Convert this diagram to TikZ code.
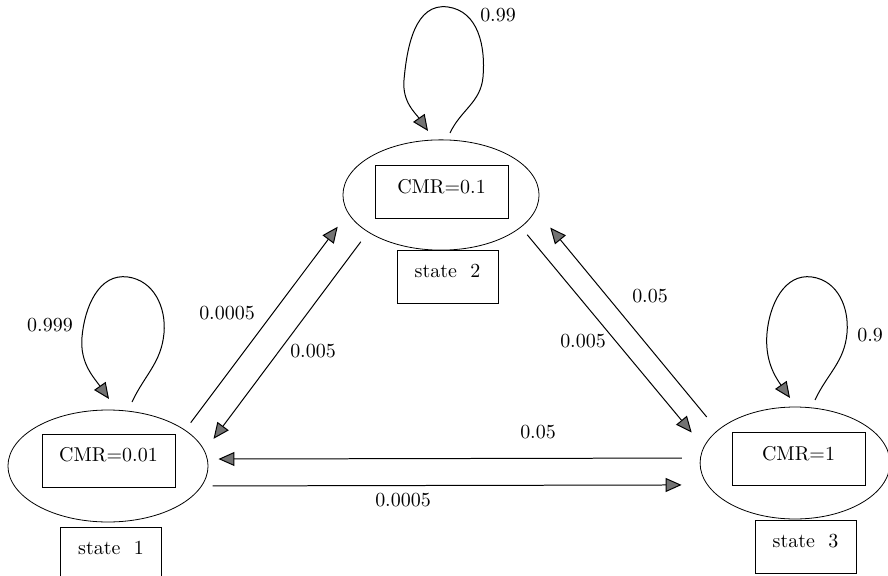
\documentclass[tikz,border=0pt]{standalone}
\usepackage{tikz}
\usetikzlibrary{calc,positioning,shapes.geometric,arrows.meta}
\tikzset{
  stateell/.style={ellipse,draw,minimum height=1.97cm},
  cmrbox/.style={rectangle,draw,inner sep=0pt,minimum width=2.34cm,text height=0.49cm,text depth=0.44cm},
  namebox/.style={rectangle,draw,inner sep=0pt,minimum width=1.78cm,text height=0.49cm,text depth=0.44cm},
  trans/.style={line width=0.5pt,-{Triangle[length=8pt,width=7pt,fill=black!55]}},
  lab/.style={inner sep=1pt}
}

\begin{document}
\begin{tikzpicture}[x=0.0176cm,y=0.0176cm]
			\useasboundingbox (0,0) rectangle (888,575);
			% states
			\node[stateell,minimum width=3.52cm] (s1) at (108,109) {};
			\node[stateell,minimum width=3.45cm,minimum height=1.94cm] (s2) at (441,380) {};
			\node[stateell,minimum width=3.34cm] (s3) at (795,112) {};
			\node[cmrbox] (c1) at (108.5,114.5) {CMR=0.01};
			\node[cmrbox] (c2) at (441.5,383) {CMR=0.1};
			\node[cmrbox] (c3) at (798.5,116) {CMR=1};
			\node[namebox] (n1) at (111,21.5) {state~~1};
			\node[namebox] (n2) at (447.5,298.5) {state~~2};
			\node[namebox] (n3) at (805.5,28.5) {state~~3};
			% transitions
			\draw[trans,shorten <=0.16cm,shorten >=0.30cm] (s1.25) -- (s2.191);
			\draw[trans,shorten <=0.21cm,shorten >=0.26cm] (s2.207.5) -- (s1.9);
			\draw[trans,shorten <=0.17cm,shorten >=0.33cm] (s2.338) -- (s3.170);
			\draw[trans,shorten <=0.30cm,shorten >=0.40cm] (s3.157) -- (s2.351);
			\draw[trans,shorten <=0.32cm,shorten >=0.19cm] (s3.177.6) -- (s1.4);
			\draw[trans,shorten <=0.19cm,shorten >=0.45cm] (s1.348.6) -- (s3.194);
			% self loops
			\draw[trans] ($(s1.center)+(24,64)$) to[out=65,in=-95] ++(32,69) to[out=85,in=-8] ++(-36,56)
				to[out=172,in=85] ++(-46,-60) to[out=-95,in=125] ++(27,-62);
			\draw[trans] ($(s2.center)+(9,62)$) to[out=65,in=-95] ++(33,56) to[out=85,in=-8] ++(-35,70)
				to[out=172,in=85] ++(-44,-73) to[out=-95,in=125] ++(24,-51);
			\draw[trans] ($(s3.center)+(20,63)$) to[out=65,in=-95] ++(32,67) to[out=85,in=-8] ++(-35,56)
				to[out=172,in=85] ++(-45,-56) to[out=-95,in=125] ++(23,-65);
			% labels
			\node[lab] (p11) at (50,250) {0.999};
			\node[lab] (p22) at (498,560) {0.99};
			\node[lab,anchor=west] (p33) at (855,240) {0.9};
			\node[lab] (p12) at (227,262) {0.0005};
			\node[lab] (p21) at (313,224) {0.005};
			\node[lab] (p32) at (650,279) {0.05};
			\node[lab] (p23) at (583,234) {0.005};
			\node[lab] (p31) at (538,143) {0.05};
			\node[lab] (p13) at (403,75) {0.0005};
		\end{tikzpicture}
\end{document}
